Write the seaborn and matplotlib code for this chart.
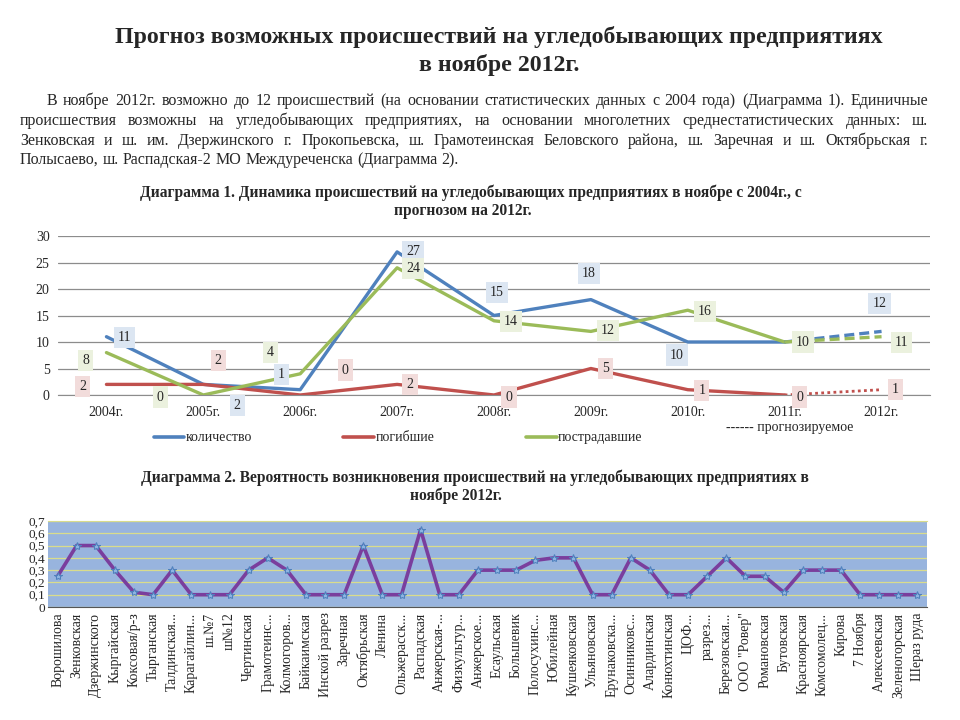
import matplotlib
matplotlib.use("Agg")
import matplotlib.pyplot as plt
import seaborn as sns
import pandas as pd
from matplotlib.lines import Line2D

# data for diagram 1
years = ["2004г.", "2005г.", "2006г.", "2007г.", "2008г.", "2009г.", "2010г.", "2011г.", "2012г."]
kolichestvo = [11, 2, 1, 27, 15, 18, 10, 10, 12]
pogibshie = [2, 2, 0, 2, 0, 5, 1, 0, 1]
postradavshie = [8, 0, 4, 24, 14, 12, 16, 10, 11]

# data for diagram 2
mines = ["Ворошилова", "Зенковская", "Дзержинского", "Кыргайская", "Коксовая/р-з",
         "Тырганская", "Талдинская...", "Карагайлин...", "ш.№7", "ш№12", "Чертинская",
         "Грамотеинс...", "Колмогоров...", "Байкаимская", "Инской разрез", "Заречная",
         "Октябрьская", "Ленина", "Ольжерасск...", "Распадская", "Анжерская-...",
         "Физкультур...", "Анжерское...", "Есаульская", "Большевик", "Полосухинс...",
         "Юбилейная", "Кушеяковская", "Ульяновская", "Ерунаковска...", "Осинниковс...",
         "Алардинская", "Конюхтинская", "ЦОФ...", "разрез...", "Березовская...",
         "ООО \"Ровер\"", "Романовская", "Бутовская", "Красноярская", "Комсомолец...",
         "Кирова", "7 Ноября", "Алексеевская", "Зеленогорская", "Шераз руда"]
probability = [0.25, 0.5, 0.5, 0.3, 0.12, 0.1, 0.3, 0.1, 0.1, 0.1, 0.3,
               0.4, 0.3, 0.1, 0.1, 0.1, 0.5, 0.1, 0.1, 0.63, 0.1,
               0.1, 0.3, 0.3, 0.3, 0.38, 0.4, 0.4, 0.1, 0.1, 0.4,
               0.3, 0.1, 0.1, 0.25, 0.4, 0.25, 0.25, 0.12, 0.3, 0.3,
               0.3, 0.1, 0.1, 0.1, 0.1]
prob_ticks = [0, 0.1, 0.2, 0.3, 0.4, 0.5, 0.6, 0.7]
prob_tick_labels = ["0", "0,1", "0,2", "0,3", "0,4", "0,5", "0,6", "0,7"]

# label offsets in pixels (manual placement like in the original)
off_kol = [(18, -1), (34, -21), (-19, 15), (16, 0), (3, 23), (-2, 26), (-11, -13), None, (-2, 28)]
off_pog = [(-24, -2), (15, 24), (45, 25), (13, 0), (15, -2), (15, 0), (14, -1), (15, -2), (14, 0)]
off_pos = [(-21, -8), (-43, -2), (-30, 21), (16, -1), (17, -1), (17, 1), (17, -1), (18, 0), (20, -6)]

BLUE = "#4F81BD"
RED = "#C0504D"
GREEN = "#9BBB59"

sns.set_style("white")
plt.rcParams["font.family"] = ["Liberation Serif", "DejaVu Serif"]

fig = plt.figure(figsize=(9.6, 7.2), dpi=100)
W, H = 960, 720

def fx(px):
    return px / W

def fy(py):
    return 1 - py / H

# header
fig.text(fx(499), fy(37), "Прогноз возможных происшествий на угледобывающих предприятиях",
         ha="center", va="center", fontsize=17.2, fontweight="bold")
fig.text(fx(499), fy(65), "в ноябре 2012г.", ha="center", va="center",
         fontsize=17.2, fontweight="bold")

para = [
    "В ноябре 2012г. возможно до 12 происшествий (на основании статистических данных с 2004 года) (Диаграмма 1). Единичные",
    "происшествия возможны на угледобывающих предприятиях, на основании многолетних среднестатистических данных: ш.",
    "Зенковская  и ш. им. Дзержинского г. Прокопьевска, ш. Грамотеинская Беловского района, ш. Заречная и ш. Октябрьская г.",
    "Полысаево, ш. Распадская-2 МО Междуреченска  (Диаграмма 2).",
]
para_y = [105, 125, 145, 164]
para_x0 = [47, 20, 20, 20]
renderer = fig.canvas.get_renderer()
for i, line in enumerate(para):
    words = line.split()
    texts = [fig.text(0, fy(para_y[i]), w, ha="left", va="baseline", fontsize=11.5) for w in words]
    if i == len(para) - 1:
        gap = 4
    else:
        widths = [t.get_window_extent(renderer).width for t in texts]
        gap = (928 - para_x0[i] - sum(widths)) / (len(words) - 1)
    x = para_x0[i]
    for t in texts:
        t.set_x(fx(x))
        x += t.get_window_extent(renderer).width + gap

# diagram 1
fig.text(fx(471), fy(193), "Диаграмма 1. Динамика происшествий на угледобывающих предприятиях в ноябре с 2004г., с",
         ha="center", va="center", fontsize=11.2, fontweight="bold")
fig.text(fx(463), fy(211), "прогнозом на 2012г.", ha="center", va="center",
         fontsize=11.2, fontweight="bold")

ax1 = fig.add_axes([fx(58), fy(395), (930 - 58) / W, (395 - 236) / H])
df1 = pd.DataFrame({"year": years, "kol": kolichestvo, "pog": pogibshie, "pos": postradavshie})
hist = df1.iloc[:8]
fc = df1.iloc[7:]
sns.lineplot(data=hist, x="year", y="kol", sort=False, color=BLUE, lw=2.4, ax=ax1)
sns.lineplot(data=hist, x="year", y="pog", sort=False, color=RED, lw=2.4, ax=ax1)
sns.lineplot(data=hist, x="year", y="pos", sort=False, color=GREEN, lw=2.4, ax=ax1)
sns.lineplot(data=fc, x="year", y="kol", sort=False, color=BLUE, lw=2.4, ls=(0, (3, 1.5)), ax=ax1)
sns.lineplot(data=fc, x="year", y="pos", sort=False, color=GREEN, lw=2.4, ls=(0, (3, 1.5)), ax=ax1)
sns.lineplot(data=fc, x="year", y="pog", sort=False, color=RED, lw=2.0, ls=(0, (1, 1.2)), ax=ax1)

label_sets = [(kolichestvo, off_kol, "#DCE6F2"), (pogibshie, off_pog, "#F2DCDB"),
              (postradavshie, off_pos, "#EBF1DE")]
for vals, offs, bg in label_sets:
    for i, (v, o) in enumerate(zip(vals, offs)):
        if o is None:
            continue
        ax1.annotate(str(v), (i, v), xytext=o, textcoords="offset pixels",
                     ha="center", va="center", fontsize=10,
                     bbox=dict(boxstyle="square,pad=0.3", fc=bg, ec="none"))

ax1.set_xlim(-0.5, 8.5)
ax1.set_ylim(0, 30)
ax1.set_yticks(range(0, 31, 5))
ax1.grid(axis="y", color="#8C8C8C", lw=0.9)
ax1.set_axisbelow(True)
for s in ["top", "right", "left"]:
    ax1.spines[s].set_visible(False)
ax1.spines["bottom"].set_color("#8C8C8C")
ax1.tick_params(axis="both", length=0, labelsize=10, pad=8)
ax1.tick_params(axis="y", pad=6)
ax1.set_xlabel("")
ax1.set_ylabel("")

handles = [Line2D([], [], color=c, lw=2.6) for c in (BLUE, RED, GREEN)]
fig.legend(handles, ["количество", "погибшие", "пострадавшие"], loc="center left",
           bbox_to_anchor=(fx(141), fy(438)), ncol=3, frameon=False, fontsize=10,
           handlelength=2.2, handletextpad=0.1, columnspacing=6.6)
fig.text(fx(790), fy(427), "------ прогнозируемое", ha="center", va="center", fontsize=10)

# diagram 2
fig.text(fx(475), fy(478), "Диаграмма 2. Вероятность возникновения происшествий на угледобывающих предприятиях в",
         ha="center", va="center", fontsize=11.2, fontweight="bold")
fig.text(fx(456), fy(496), "ноябре 2012г.", ha="center", va="center",
         fontsize=11.2, fontweight="bold")

ax2 = fig.add_axes([fx(48), fy(607), (927 - 48) / W, (607 - 521) / H])
ax2.set_facecolor("#98B4DE")
sns.lineplot(x=mines, y=probability, sort=False, color="#7A3E9D", lw=2.6,
             marker="*", markersize=6, markerfacecolor="#8DB4E2",
             markeredgecolor="#4F81BD", ax=ax2)
ax2.set_xlim(-0.5, len(mines) - 0.5)
ax2.set_ylim(0, 0.7)
ax2.set_yticks(prob_ticks)
ax2.set_yticklabels(prob_tick_labels)
ax2.grid(axis="y", color="#D9DC8C", lw=0.9)
ax2.set_axisbelow(True)
for s in ["right", "left"]:
    ax2.spines[s].set_visible(False)
ax2.spines["top"].set_color("#D9DC8C")
ax2.spines["bottom"].set_color("#555555")
ax2.tick_params(axis="both", length=0, labelsize=9.5, pad=2)
ax2.tick_params(axis="x", labelrotation=90, labelsize=10, pad=4)
ax2.set_xlabel("")
ax2.set_ylabel("")

fig.savefig("out.png", dpi=100, facecolor="white")
